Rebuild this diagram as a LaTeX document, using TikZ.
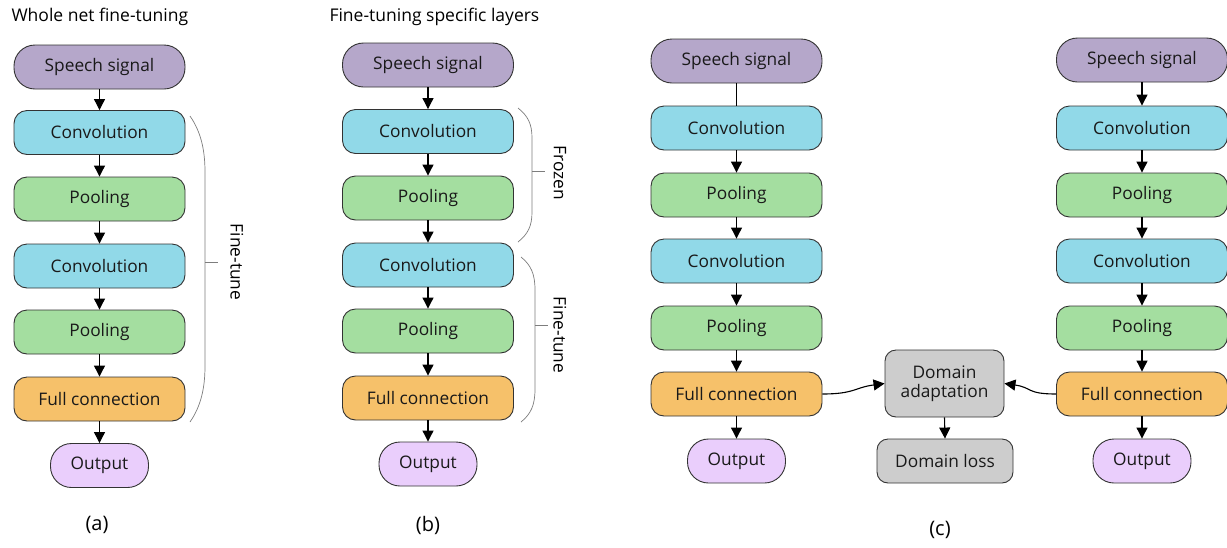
\documentclass[tikz,border=0pt]{standalone}
\usepackage{fontspec}
\setmainfont{Open Sans}
\usetikzlibrary{arrows.meta}
\definecolor{cspeech}{RGB}{181,167,202}
\definecolor{cconv}{RGB}{145,217,232}
\definecolor{cpool}{RGB}{164,222,160}
\definecolor{cfull}{RGB}{246,193,106}
\definecolor{cout}{RGB}{234,206,252}
\definecolor{cdom}{RGB}{205,205,205}
\definecolor{cbrace}{RGB}{125,125,125}
\tikzset{
  box/.style={draw=black!80, line width=0.9pt, minimum width=171pt, minimum height=44pt,
    inner sep=0pt, rounded corners=13pt, font=\fontsize{17.3}{20}\selectfont, text=black!90},
  speech/.style={box, fill=cspeech, rounded corners=21pt},
  conv/.style={box, fill=cconv},
  pool/.style={box, fill=cpool},
  full/.style={box, fill=cfull},
  outp/.style={box, fill=cout, minimum width=98pt, rounded corners=21pt},
  dom/.style={box, fill=cdom, rounded corners=11pt},
  flow/.style={line width=1.1pt, -{Triangle[width=11pt,length=11pt]}},
  brace/.style={draw=cbrace, line width=0.7pt},
  bracelabel/.style={rotate=-90, font=\fontsize{17.3}{20}\selectfont},
  title/.style={anchor=west, font=\fontsize{17.5}{20}\selectfont},
  panel/.style={font=\fontsize{20}{24}\selectfont}
}
\begin{document}
\begin{tikzpicture}[x=1pt,y=-1pt]
\useasboundingbox (0,0) rectangle (1227,547);

% ---------- (a) whole net fine-tuning ----------
\node[title] (ta) at (8,17) {Whole net fine-tuning};
\node[speech] (a0) at (99.5,67) {Speech signal};
\node[conv]   (a1) at (99.5,132.5) {Convolution};
\node[pool]   (a2) at (99.5,199) {Pooling};
\node[conv]   (a3) at (99.5,266) {Convolution};
\node[pool]   (a4) at (99.5,332) {Pooling};
\node[full]   (a5) at (99.5,399) {Full connection};
\node[outp]   (a6) at (99.5,465.5) {Output};
\foreach \i/\j in {a0/a1,a1/a2,a2/a3,a3/a4,a4/a5,a5/a6}
  \draw[flow] (\i.south) -- (\j.north);
\draw[brace] (190,116) .. controls (201,132) and (205,150) .. (205,172)
  -- (205,366) .. controls (205,388) and (201,406) .. (190,422);
\coordinate (atick) at (218,262);
\draw[brace] (205,262) -- (atick);
\node[bracelabel] (la) at (237,262) {Fine-tune};
\node[panel] (pa) at (97,525) {(a)};

% ---------- (b) fine-tuning specific layers ----------
\node[title] (tb) at (326,17) {Fine-tuning specific layers};
\node[speech] (b0) at (428,65) {Speech signal};
\node[conv]   (b1) at (428,131.5) {Convolution};
\node[pool]   (b2) at (428,198) {Pooling};
\node[conv]   (b3) at (428,265) {Convolution};
\node[pool]   (b4) at (428,331) {Pooling};
\node[full]   (b5) at (428,398) {Full connection};
\node[outp]   (b6) at (428,464) {Output};
\foreach \i/\j in {b0/b1,b1/b2,b2/b3,b3/b4,b4/b5,b5/b6}
  \draw[flow] (\i.south) -- (\j.north);
\draw[brace] (518,108) .. controls (528,116) and (532,124) .. (532,138)
  -- (532,212) .. controls (532,226) and (528,234) .. (518,242);
\coordinate (btick1) at (545,171);
\draw[brace] (532,171) -- (btick1);
\node[bracelabel] (lb1) at (560,173) {Frozen};
\draw[brace] (521,257) .. controls (531,265) and (535,274) .. (535,290)
  -- (535,389) .. controls (535,405) and (531,414) .. (521,422);
\coordinate (btick2) at (548,325);
\draw[brace] (535,325) -- (btick2);
\node[bracelabel] (lb2) at (560,335) {Fine-tune};
\node[panel] (pb) at (428,525) {(b)};

% ---------- (c) domain adaptation ----------
\node[speech] (l0) at (736.5,61) {Speech signal};
\node[conv]   (l1) at (736.5,128) {Convolution};
\node[pool]   (l2) at (736.5,195) {Pooling};
\node[conv]   (l3) at (736.5,261) {Convolution};
\node[pool]   (l4) at (736.5,328) {Pooling};
\node[full]   (l5) at (736.5,394) {Full connection};
\node[outp]   (l6) at (736.5,461) {Output};
\draw[line width=1.1pt] (l0.south) -- (l1.north);
\foreach \i/\j in {l1/l2,l2/l3,l3/l4,l4/l5,l5/l6}
  \draw[flow] (\i.south) -- (\j.north);

\node[speech] (r0) at (1142,60) {Speech signal};
\node[conv]   (r1) at (1142,128) {Convolution};
\node[pool]   (r2) at (1142,195) {Pooling};
\node[conv]   (r3) at (1142,261) {Convolution};
\node[pool]   (r4) at (1142,328) {Pooling};
\node[full]   (r5) at (1142,394) {Full connection};
\node[outp]   (r6) at (1142,461) {Output};
\foreach \i/\j in {r0/r1,r1/r2,r2/r3,r3/r4,r4/r5,r5/r6}
  \draw[flow] (\i.south) -- (\j.north);

\node[dom, minimum width=119pt, minimum height=67pt, align=center] (da) at (944.5,383.5)
  {Domain\\[-1pt]adaptation};
\node[dom, minimum width=136pt] (dl) at (945,461) {Domain loss};
\draw[flow] (da.south) -- (dl.north);
\draw[flow] (l5.east) .. controls +(32,0) and +(-30,4) .. (da.west);
\draw[flow] (r5.west) .. controls +(-30,0) and +(28,4) .. (da.east);
\node[panel] (pc) at (940,530) {(c)};
\end{tikzpicture}
\end{document}
